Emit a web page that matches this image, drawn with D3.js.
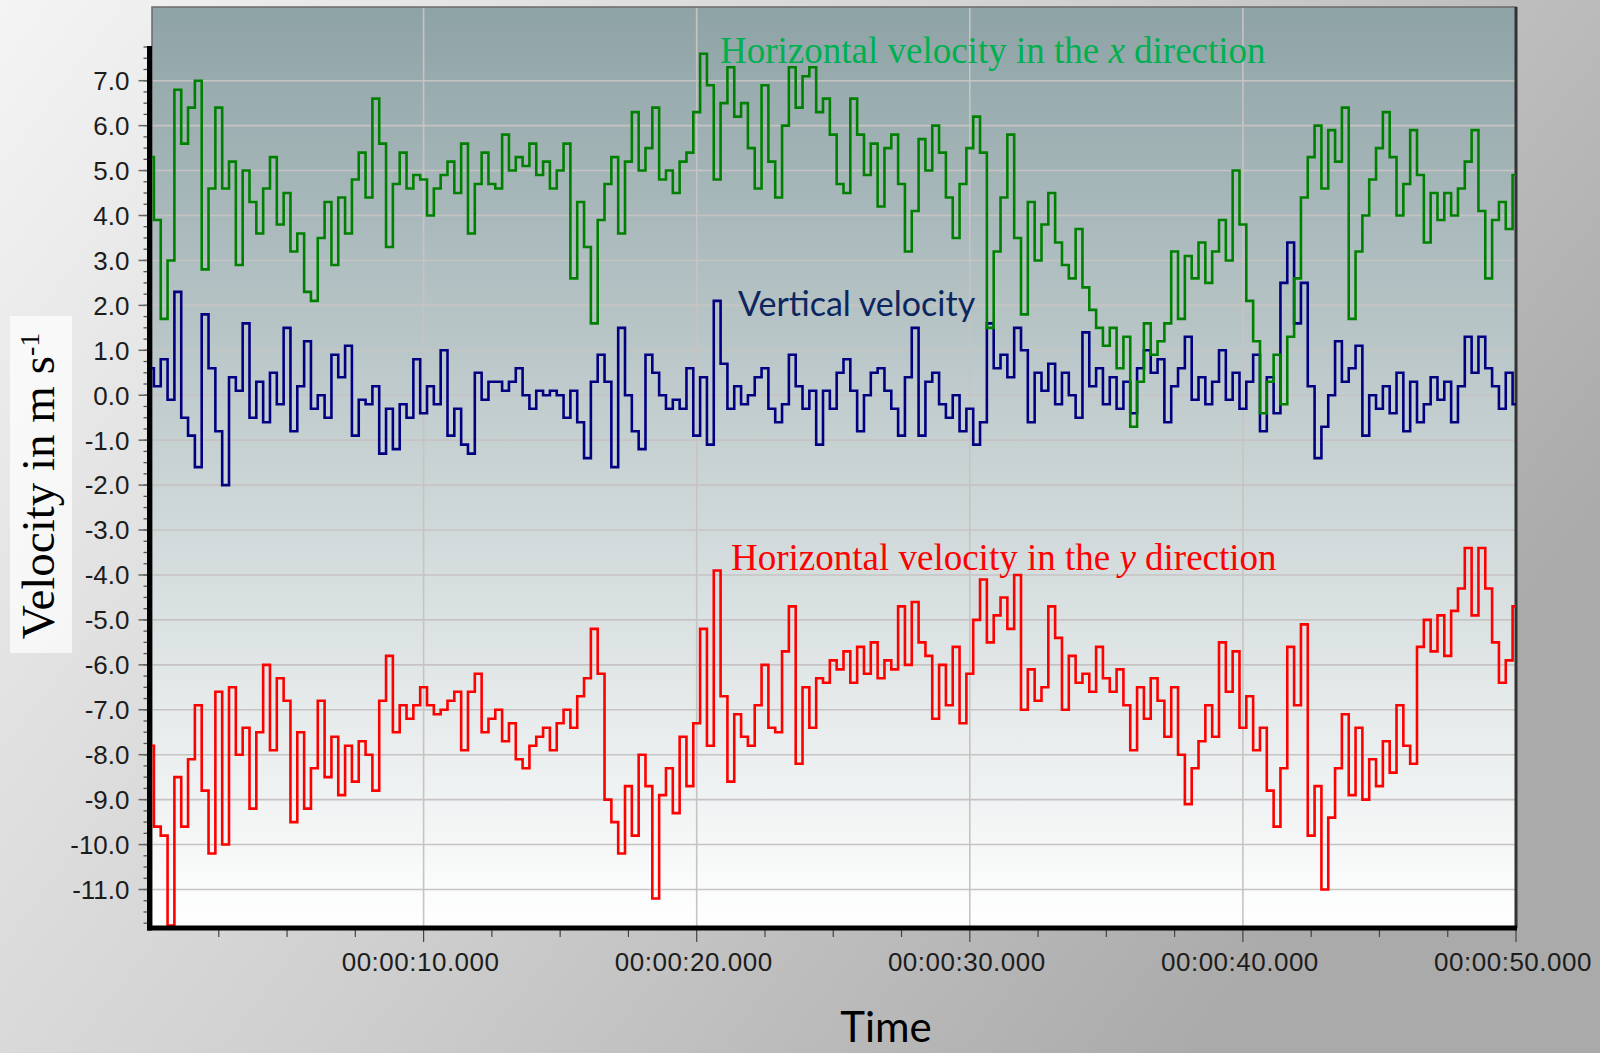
<!DOCTYPE html>
<html>
<head>
<meta charset="utf-8">
<script src="https://cdn.jsdelivr.net/npm/d3@7"></script>
<style>
  body { margin: 0; }
  svg { display: block; }
</style>
</head>
<body>
<div id="chart"></div>
<script>
// logger sample spacing in seconds (values below are read every 0.25 s)
var sampleStep = 0.25;

// horizontal velocity, x direction (green)
var greenValues = [
  5.3, 3.9, 1.7, 3.0, 6.8, 5.6, 6.4, 7.0, 2.8, 4.6, 6.4, 4.6, 5.2, 2.9, 5.0, 4.3, 3.6, 4.6, 5.3, 3.8,
  4.5, 3.2, 3.6, 2.3, 2.1, 3.5, 4.3, 2.9, 4.4, 3.6, 4.8, 5.4, 4.4, 6.6, 5.6, 3.3, 4.7, 5.4, 4.6, 4.9,
  4.8, 4.0, 4.6, 4.9, 5.2, 4.5, 5.6, 3.6, 4.7, 5.4, 4.7, 4.6, 5.8, 5.0, 5.3, 5.1, 5.6, 4.9, 5.2, 4.6,
  5.0, 5.6, 2.6, 4.3, 3.3, 1.6, 3.9, 4.7, 5.3, 3.6, 5.2, 6.3, 5.0, 5.5, 6.4, 4.8, 5.0, 4.5, 5.2, 5.4,
  6.3, 7.6, 6.9, 4.8, 6.5, 7.3, 6.2, 6.5, 5.5, 4.6, 6.9, 5.2, 4.4, 6.0, 7.3, 6.4, 7.1, 7.3, 6.3, 6.6,
  5.8, 4.7, 4.5, 6.6, 5.8, 4.9, 5.6, 4.2, 5.5, 5.8, 4.7, 3.2, 4.1, 5.7, 5.0, 6.0, 5.4, 4.4, 3.5, 4.7,
  5.5, 6.2, 5.4, 1.5, 3.2, 4.4, 5.8, 3.5, 1.8, 4.3, 3.0, 3.8, 4.5, 3.4, 2.9, 2.6, 3.7, 2.4, 1.9, 1.5,
  1.1, 1.5, 0.6, 1.3, -0.7, 0.3, 1.6, 0.9, 1.2, 1.6, 3.2, 1.7, 3.1, 2.6, 3.4, 2.5, 3.2, 3.9, 3.0, 5.0,
  3.8, 2.1, 1.2, -0.4, 0.3, 0.9, -0.2, 1.3, 2.6, 4.4, 5.3, 6.0, 4.6, 5.9, 5.2, 6.4, 1.7, 3.2, 4.0, 4.8,
  5.5, 6.3, 5.3, 4.0, 4.7, 5.9, 4.9, 3.4, 4.5, 3.9, 4.5, 4.0, 4.6, 5.2, 5.9, 4.1, 2.6, 3.9, 4.3, 3.7,
  4.9
];

// vertical velocity (navy)
var blueValues = [
  0.6, 0.2, 0.8, -0.1, 2.3, -0.5, -0.9, -1.6, 1.8, 0.6, -0.8, -2.0, 0.4, 0.1, 1.6, -0.5, 0.3, -0.6, 0.5, -0.2,
  1.5, -0.8, 0.2, 1.2, -0.3, 0.0, -0.5, 0.9, 0.4, 1.1, -0.9, -0.1, -0.2, 0.2, -1.3, -0.3, -1.2, -0.2, -0.5, 0.8,
  -0.4, 0.2, -0.2, 1.0, -0.9, -0.3, -1.1, -1.3, 0.5, -0.1, 0.3, 0.3, 0.1, 0.3, 0.6, 0.0, -0.3, 0.1, 0.0, 0.1,
  0.0, -0.5, 0.1, -0.6, -1.4, 0.3, 0.9, 0.3, -1.6, 1.5, 0.0, -0.8, -1.2, 0.9, 0.5, 0.0, -0.3, -0.1, -0.3, 0.6,
  -0.9, 0.4, -1.1, 2.1, 0.7, -0.3, 0.2, -0.2, 0.0, 0.4, 0.6, -0.3, -0.6, -0.2, 0.9, 0.2, -0.3, 0.1, -1.1, 0.1,
  -0.3, 0.5, 0.8, 0.1, -0.8, 0.0, 0.5, 0.6, 0.1, -0.3, -0.9, 0.4, 1.5, -0.9, 0.3, 0.5, -0.2, -0.5, 0.0, -0.8,
  -0.3, -1.1, -0.6, 1.6, 0.6, 0.9, 0.4, 1.5, 1.0, -0.6, 0.5, 0.1, 0.7, -0.2, 0.5, 0.0, -0.5, 1.4, 0.2, 0.6,
  -0.2, 0.4, -0.3, 0.3, -0.4, 0.6, 1.0, 0.5, 0.8, -0.6, 0.2, 0.6, 1.3, -0.1, 0.4, -0.2, 0.3, 1.0, -0.1, 0.5,
  -0.3, 0.3, 0.9, -0.8, 0.4, -0.4, 2.5, 3.4, 1.6, 2.5, 0.2, -1.4, -0.7, 0.0, 1.2, 0.3, 0.6, 1.1, -0.9, 0.0,
  -0.3, 0.2, -0.4, 0.5, -0.8, 0.3, -0.6, -0.2, 0.4, -0.1, 0.3, -0.6, 0.2, 1.3, 0.5, 1.3, 0.6, 0.2, -0.3, 0.5,
  -0.2
];

// horizontal velocity, y direction (red)
var redValues = [
  -7.8, -9.6, -9.8, -11.8, -8.5, -9.6, -8.1, -6.9, -8.8, -10.2, -6.6, -10.0, -6.5, -8.0, -7.4, -9.2, -7.5, -6.0, -7.9, -6.3,
  -6.8, -9.5, -7.5, -9.2, -8.3, -6.8, -8.5, -7.6, -8.9, -7.8, -8.6, -7.7, -8.0, -8.8, -6.8, -5.8, -7.5, -6.9, -7.2, -6.9,
  -6.5, -6.9, -7.1, -7.0, -6.8, -6.6, -7.9, -6.6, -6.2, -7.5, -7.2, -7.0, -7.7, -7.3, -8.1, -8.3, -7.8, -7.6, -7.4, -7.9,
  -7.3, -7.0, -7.4, -6.7, -6.3, -5.2, -6.2, -9.0, -9.5, -10.2, -8.7, -9.8, -8.0, -8.7, -11.2, -8.9, -8.3, -9.3, -7.6, -8.7,
  -7.3, -5.2, -7.8, -3.9, -6.7, -8.6, -7.1, -7.6, -7.8, -6.9, -6.0, -7.4, -7.5, -5.7, -4.7, -8.2, -6.5, -7.4, -6.3, -6.4,
  -5.9, -6.1, -5.7, -6.4, -5.6, -6.2, -5.5, -6.3, -5.9, -6.1, -4.7, -6.0, -4.6, -5.5, -5.8, -7.2, -6.0, -6.9, -5.6, -7.3,
  -6.2, -5.0, -4.1, -5.5, -4.9, -4.5, -5.2, -4.0, -7.0, -6.1, -6.8, -6.5, -4.7, -5.4, -7.0, -5.8, -6.4, -6.2, -6.6, -5.6,
  -6.3, -6.6, -6.1, -6.9, -7.9, -6.5, -7.2, -6.3, -6.8, -7.6, -6.5, -8.0, -9.1, -8.3, -7.7, -6.9, -7.6, -5.5, -6.6, -5.7,
  -7.4, -6.7, -7.9, -7.4, -8.8, -9.6, -8.3, -5.6, -6.9, -5.1, -9.8, -8.7, -11.0, -9.4, -8.3, -7.1, -8.9, -7.4, -9.0, -8.1,
  -8.7, -7.7, -8.4, -6.9, -7.8, -8.2, -5.6, -5.0, -5.7, -4.9, -5.8, -4.8, -4.3, -3.4, -4.9, -3.4, -4.3, -5.5, -6.4, -5.9,
  -4.7
];

// axis ticks
var yTicks = [7, 6, 5, 4, 3, 2, 1, 0, -1, -2, -3, -4, -5, -6, -7, -8, -9, -10, -11];
var xTicks = [10, 20, 30, 40, 50];
var xTickLabels = ["00:00:10.000", "00:00:20.000", "00:00:30.000", "00:00:40.000", "00:00:50.000"];

var series = [
  {name: "vertical", values: blueValues, color: "#000080"},
  {name: "horizontalX", values: greenValues, color: "#008000"},
  {name: "horizontalY", values: redValues, color: "#ff0000"}
];

// svg size
var svgWidth = 1600;
var svgHeight = 1053;

// plot box in pixels
var plot = {left: 152, right: 1516, top: 7, bottom: 928};
var axisX = 149.5;

var svg = d3.select("#chart")
    .append("svg")
    .attr("width", svgWidth)
    .attr("height", svgHeight);

var defs = svg.append("defs");

// page background gradient
var pageGrad = defs.append("linearGradient")
    .attr("id", "pageGrad")
    .attr("x1", 0).attr("y1", 0)
    .attr("x2", 1).attr("y2", 0.5);
pageGrad.append("stop").attr("offset", "0%").attr("stop-color", "#f4f4f4");
pageGrad.append("stop").attr("offset", "55%").attr("stop-color", "#cfcfcf");
pageGrad.append("stop").attr("offset", "100%").attr("stop-color", "#aaaaaa");

// plot background gradient
var plotGrad = defs.append("linearGradient")
    .attr("id", "plotGrad")
    .attr("x1", 0).attr("y1", 0)
    .attr("x2", 0).attr("y2", 1);
plotGrad.append("stop").attr("offset", "0%").attr("stop-color", "#8ea3a6");
plotGrad.append("stop").attr("offset", "50%").attr("stop-color", "#c9d3d4");
plotGrad.append("stop").attr("offset", "100%").attr("stop-color", "#ffffff");

defs.append("clipPath")
    .attr("id", "plotClip")
    .append("rect")
    .attr("x", plot.left)
    .attr("y", plot.top)
    .attr("width", plot.right - plot.left)
    .attr("height", plot.bottom - plot.top);

svg.append("rect")
    .attr("width", svgWidth)
    .attr("height", svgHeight)
    .attr("fill", "url(#pageGrad)");

svg.append("rect")
    .attr("x", plot.left)
    .attr("y", plot.top)
    .attr("width", plot.right - plot.left)
    .attr("height", plot.bottom - plot.top)
    .attr("fill", "url(#plotGrad)");

// scales
var xScale = d3.scaleLinear()
    .domain([0, 50])
    .range([150.5, 1516]);

var yScale = d3.scaleLinear()
    .domain([-11, 7])
    .range([889.5, 80.7]);

// gridlines
var gridGroup = svg.append("g");
gridGroup.selectAll(".hgrid")
    .data(yTicks)
    .enter()
    .append("line")
    .attr("x1", plot.left)
    .attr("x2", plot.right)
    .attr("y1", d => yScale(d))
    .attr("y2", d => yScale(d))
    .attr("stroke", "#c7c3c3")
    .attr("stroke-width", 1.6);

gridGroup.selectAll(".vgrid")
    .data(xTicks.slice(0, 4))
    .enter()
    .append("line")
    .attr("x1", d => xScale(d))
    .attr("x2", d => xScale(d))
    .attr("y1", plot.top)
    .attr("y2", plot.bottom)
    .attr("stroke", "#c7c3c3")
    .attr("stroke-width", 1.6);

// frame
svg.append("rect")
    .attr("x", plot.left)
    .attr("y", plot.top)
    .attr("width", plot.right - plot.left)
    .attr("height", plot.bottom - plot.top)
    .attr("fill", "none")
    .attr("stroke", "#6b6b6b")
    .attr("stroke-width", 1.5);

svg.append("line")
    .attr("x1", plot.right).attr("x2", plot.right)
    .attr("y1", plot.top).attr("y2", plot.bottom)
    .attr("stroke", "#333")
    .attr("stroke-width", 3);

// series lines
var line = d3.line()
    .x(d => xScale(d[0]))
    .y(d => yScale(d[1]))
    .curve(d3.curveStep);

var linesGroup = svg.append("g")
    .attr("clip-path", "url(#plotClip)");

linesGroup.selectAll("path")
    .data(series)
    .enter()
    .append("path")
    .attr("d", d => line(d.values.map((v, i) => [i * sampleStep, v])))
    .attr("fill", "none")
    .attr("stroke", d => d.color)
    .attr("stroke-width", 2.6)
    .attr("stroke-linejoin", "miter");

// left axis, minor ticks every 0.25
var axisTop = yScale.invert(46);
var minorY = d3.range(-47, Math.floor(axisTop * 4) + 1).map(d => d / 4);

var leftAxis = svg.append("g")
    .attr("transform", `translate(${axisX},0)`);

leftAxis.selectAll(".minor")
    .data(minorY)
    .enter()
    .append("line")
    .attr("x1", -6)
    .attr("x2", 0)
    .attr("y1", d => yScale(d))
    .attr("y2", d => yScale(d))
    .attr("stroke", "#555")
    .attr("stroke-width", 1.3);

leftAxis.selectAll(".major")
    .data(yTicks)
    .enter()
    .append("line")
    .attr("x1", -11)
    .attr("x2", 0)
    .attr("y1", d => yScale(d))
    .attr("y2", d => yScale(d))
    .attr("stroke", "#666")
    .attr("stroke-width", 1.5);

leftAxis.append("line")
    .attr("x1", 0).attr("x2", 0)
    .attr("y1", 46).attr("y2", plot.bottom + 2.5)
    .attr("stroke", "#000")
    .attr("stroke-width", 5);

leftAxis.selectAll("text")
    .data(yTicks)
    .enter()
    .append("text")
    .attr("x", -20)
    .attr("y", d => yScale(d))
    .attr("dy", "0.36em")
    .attr("text-anchor", "end")
    .attr("font-family", "Liberation Sans, Arial, sans-serif")
    .attr("font-size", "26px")
    .attr("fill", "#1c1c1c")
    .text(d => d3.format(".1f")(d).replace("\u2212", "-"));

// bottom axis, minor ticks every 2.5 s
var minorX = d3.range(1, 21).map(d => d * 2.5);

var bottomAxis = svg.append("g")
    .attr("transform", `translate(0,${plot.bottom})`);

bottomAxis.selectAll(".minor")
    .data(minorX)
    .enter()
    .append("line")
    .attr("x1", d => xScale(d))
    .attr("x2", d => xScale(d))
    .attr("y1", 0)
    .attr("y2", d => d % 10 === 0 ? 14 : 9)
    .attr("stroke", "#444")
    .attr("stroke-width", 1.2);

bottomAxis.append("line")
    .attr("x1", axisX - 2.5).attr("x2", plot.right + 1)
    .attr("y1", 0).attr("y2", 0)
    .attr("stroke", "#000")
    .attr("stroke-width", 5);

bottomAxis.selectAll("text")
    .data(xTicks)
    .enter()
    .append("text")
    .attr("x", d => xScale(d) - 3)
    .attr("y", 43)
    .attr("text-anchor", "middle")
    .attr("font-family", "Liberation Sans, Arial, sans-serif")
    .attr("font-size", "26px")
    .attr("letter-spacing", "0.5px")
    .attr("fill", "#1c1c1c")
    .text((d, i) => xTickLabels[i]);

// axis titles
svg.append("text")
    .attr("x", 886)
    .attr("y", 1042)
    .attr("text-anchor", "middle")
    .attr("font-family", "Lato, Carlito, sans-serif")
    .attr("font-size", "42px")
    .attr("fill", "#000")
    .text("Time");

svg.append("rect")
    .attr("x", 10)
    .attr("y", 316)
    .attr("width", 62)
    .attr("height", 337)
    .attr("fill", "#ffffff")
    .attr("opacity", 0.7);

var yTitle = svg.append("text")
    .attr("transform", "translate(54,486) rotate(-90)")
    .attr("text-anchor", "middle")
    .attr("font-family", "Liberation Serif, Times New Roman, serif")
    .attr("font-size", "47px")
    .attr("fill", "#000");
yTitle.append("tspan").text("Velocity in m s");
yTitle.append("tspan")
    .attr("baseline-shift", "super")
    .attr("font-size", "28px")
    .text("-1");

// series annotations
var noteX = svg.append("text")
    .attr("x", 720)
    .attr("y", 63)
    .attr("font-family", "Liberation Serif, Times New Roman, serif")
    .attr("font-size", "37px")
    .attr("fill", "#00b050");
noteX.append("tspan").text("Horizontal velocity in the ");
noteX.append("tspan").attr("font-style", "italic").text("x");
noteX.append("tspan").text(" direction");

var noteY = svg.append("text")
    .attr("x", 731)
    .attr("y", 570)
    .attr("font-family", "Liberation Serif, Times New Roman, serif")
    .attr("font-size", "37px")
    .attr("fill", "#ff0000");
noteY.append("tspan").text("Horizontal velocity in the ");
noteY.append("tspan").attr("font-style", "italic").text("y");
noteY.append("tspan").text(" direction");

svg.append("text")
    .attr("x", 738)
    .attr("y", 316)
    .attr("font-family", "Lato, Carlito, sans-serif")
    .attr("font-size", "34px")
    .attr("fill", "#0c2660")
    .text("Vertical velocity");
</script>
</body>
</html>
